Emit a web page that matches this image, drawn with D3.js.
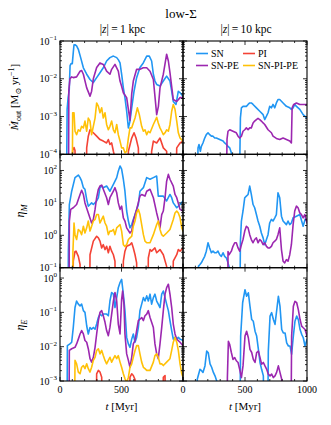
<!DOCTYPE html>
<html><head><meta charset="utf-8">
<script src="https://cdn.jsdelivr.net/npm/d3@7"></script>
<style>
body{margin:0;background:#fff}
text{font-family:"Liberation Serif","DejaVu Serif",serif;fill:#000}
</style>
</head><body><svg id="c" width="331" height="425"></svg>
<script>
// ---- data: each entry is [t (Myr), log10(value)] ----
// values far below an axis (−6) mean the curve drops out of the plotted range
// Mdot_out at |z| = 1 kpc
const sn_mdot_1 = [[50,-6],[58,-2.8],[66,-2.5],[75,-2.3],[82,-1.65],[90,-1.6],[100,-1.6],[108,-1.3],[114,-1.1],[122,-1.1],[135,-1.13],[149,-1.22],[168,-1.44],[190,-1.71],[217,-1.88],[244,-2.02],[271,-2.1],[298,-1.97],[325,-1.84],[352,-1.71],[379,-1.53],[406,-1.44],[434,-1.4],[461,-1.44],[475,-1.5],[488,-1.58],[501,-1.88],[515,-2.24],[528,-2.5],[542,-2.86],[556,-3.3],[569,-3.12],[583,-2.77],[602,-2.33],[623,-1.97],[650,-1.7],[677,-1.58],[705,-1.4],[726,-1.4],[745,-1.53],[759,-1.88],[772,-2.06],[786,-2.15],[813,-2.19],[840,-2.06],[867,-1.93],[894,-2.06],[908,-2.33],[921,-2.6],[943,-2.68],[962,-2.33],[976,-2.37],[1000,-2.46]];
const pi_mdot_1 = [[95,-6],[103,-3.9],[114,-3.82],[122,-3.9],[130,-6],[210,-6],[217,-3.83],[230,-3.52],[244,-3.35],[257,-3.39],[271,-3.43],[298,-3.52],[325,-3.61],[352,-3.65],[379,-3.7],[393,-3.61],[406,-3.74],[420,-3.7],[434,-3.92],[447,-4.1],[460,-6],[550,-6],[556,-3.92],[583,-3.57],[602,-3.43],[618,-3.57],[637,-3.83],[650,-6],[735,-6],[745,-3.92],[759,-3.65],[786,-3.7],[813,-3.57],[840,-3.83],[867,-3.92],[880,-6],[935,-6],[949,-3.83],[976,-3.7],[1000,-3.65]];
const snpe_mdot_1 = [[68,-6],[72,-2.3],[81,-2.0],[95,-1.95],[108,-1.97],[135,-1.95],[163,-1.8],[176,-1.78],[190,-1.88],[217,-2.24],[244,-2.46],[257,-2.33],[271,-2.0],[298,-1.7],[325,-1.58],[352,-1.62],[379,-1.8],[406,-1.88],[420,-1.75],[447,-1.62],[474,-1.8],[488,-2.06],[501,-2.2],[515,-2.37],[542,-2.5],[569,-3.1],[583,-2.4],[596,-2.06],[623,-1.75],[650,-1.75],[677,-1.71],[705,-1.71],[732,-1.8],[759,-2.02],[786,-2.95],[800,-2.73],[813,-2.24],[840,-1.88],[867,-1.35],[881,-1.53],[894,-1.84],[921,-2.55],[949,-2.6],[976,-2.5],[1000,-2.5]];
const snpipe_mdot_1 = [[98,-6],[103,-2.9],[114,-2.9],[122,-3.39],[135,-3.48],[149,-3.35],[163,-3.39],[176,-3.26],[190,-3.3],[203,-3.12],[217,-3.39],[230,-3.04],[244,-3.12],[257,-3.48],[271,-3.26],[285,-3.04],[298,-2.64],[312,-2.73],[325,-2.9],[339,-2.77],[352,-3.04],[366,-2.9],[379,-3.21],[393,-3.35],[406,-3.26],[420,-3.12],[434,-3.35],[447,-3.43],[461,-3.21],[474,-3.48],[488,-3.65],[501,-3.83],[515,-3.83],[528,-3.96],[542,-3.92],[556,-3.57],[569,-3.3],[583,-3.3],[596,-3.17],[610,-3.04],[629,-2.77],[645,-2.95],[664,-3.26],[678,-3.39],[691,-3.35],[705,-3.48],[718,-3.39],[732,-3.43],[759,-3.21],[786,-3.02],[799,-3.17],[813,-3.3],[827,-3.39],[840,-3.48],[854,-3.43],[867,-3.35],[881,-3.39],[894,-3.21],[908,-2.86],[921,-2.68],[935,-2.81],[949,-3.12],[962,-3.43],[976,-3.57],[1000,-3.65]];
// Mdot_out at |z| = 10 kpc
const sn_mdot_10 = [[110,-6],[121,-3.83],[129,-3.74],[140,-3.92],[148,-3.79],[161,-3.7],[175,-3.57],[188,-3.48],[202,-3.43],[215,-3.48],[229,-3.52],[242,-3.52],[256,-3.57],[269,-3.57],[296,-3.61],[323,-3.65],[336,-3.7],[350,-3.74],[363,-3.79],[377,-3.83],[390,-3.96],[400,-6],[450,-6],[463,-3.04],[471,-2.77],[484,-2.73],[511,-2.73],[525,-2.68],[538,-2.64],[551,-2.64],[565,-2.68],[592,-2.77],[619,-2.86],[646,-2.95],[659,-3.08],[673,-2.99],[686,-2.9],[699,-2.73],[713,-2.77],[726,-2.68],[740,-2.77],[753,-2.64],[766,-2.55],[780,-2.55],[807,-2.64],[834,-2.73],[861,-2.77],[874,-2.81],[888,-2.77],[901,-2.68],[915,-2.73],[942,-2.81],[969,-2.95],[1000,-3.04]];
const pi_mdot_10 = [];
const snpe_mdot_10 = [[345,-6],[355,-3.6],[363,-3.39],[377,-3.35],[403,-3.39],[430,-3.43],[444,-3.52],[457,-3.57],[471,-3.52],[484,-3.39],[498,-3.35],[511,-3.3],[525,-3.35],[538,-3.3],[551,-3.3],[565,-3.17],[578,-3.12],[592,-3.08],[605,-3.05],[619,-3.08],[632,-3.12],[646,-3.17],[659,-3.21],[686,-3.35],[713,-3.43],[726,-3.52],[753,-3.58],[780,-3.61],[807,-3.57],[834,-3.61],[861,-3.65],[874,-3.7],[880,-2.77],[893,-2.68],[915,-2.64],[942,-2.68],[969,-2.68],[1000,-2.68]];
const snpipe_mdot_10 = [];
// eta_M at |z| = 1 kpc
const sn_etaM_1 = [[62,-6],[68,-0.5],[76,0.95],[95,1.36],[122,1.78],[149,1.86],[163,1.78],[176,1.67],[190,1.47],[203,1.42],[217,1.11],[230,0.9],[244,0.95],[257,1.0],[271,0.95],[298,1.06],[312,1.16],[325,1.47],[339,1.52],[352,1.47],[379,1.52],[406,1.36],[434,1.57],[461,1.78],[474,1.98],[488,2.14],[501,2.04],[515,1.73],[528,1.36],[542,0.75],[556,0.44],[569,0.23],[583,0.33],[596,0.49],[610,0.64],[637,0.95],[650,1.36],[678,1.47],[705,1.78],[732,1.73],[759,1.78],[786,1.83],[799,1.21],[813,1.21],[840,1.21],[867,1.06],[894,1.26],[908,1.16],[921,1.0],[949,0.85],[976,0.95],[1000,1.06]];
const pi_etaM_1 = [[100,-6],[108,-0.8],[122,-0.5],[130,-0.49],[149,-0.65],[163,-0.9],[170,-6],[236,-6],[244,-0.6],[271,-0.18],[298,-0.03],[312,-0.08],[325,-0.18],[339,-0.39],[352,-0.29],[366,-0.44],[379,-0.34],[393,-0.54],[406,-0.34],[420,-0.49],[434,-0.6],[447,-0.8],[461,-6],[505,-6],[515,-0.8],[528,-0.49],[542,-0.34],[569,-0.29],[583,-0.23],[596,-0.39],[610,-0.6],[623,-0.85],[635,-6],[710,-6],[718,-0.7],[732,-0.44],[745,-0.49],[772,-0.39],[786,-0.54],[813,-0.44],[840,-0.6],[867,-0.96],[880,-6],[910,-6],[921,-0.8],[949,-0.6],[962,-0.44],[976,-0.49],[1000,-0.39]];
const snpe_etaM_1 = [[70,-6],[76,0.44],[87,0.8],[108,0.85],[135,0.95],[163,1.26],[176,1.39],[190,1.26],[203,1.0],[230,0.69],[257,0.38],[271,0.49],[285,0.8],[298,1.16],[312,1.42],[325,1.52],[339,1.55],[352,1.42],[379,1.16],[393,0.95],[406,1.16],[434,1.36],[447,1.47],[461,1.31],[474,1.0],[488,0.8],[501,0.9],[515,0.54],[528,0.44],[542,0.23],[569,0.07],[583,0.13],[596,0.44],[623,0.8],[650,1.21],[664,1.26],[691,1.21],[705,1.36],[732,1.42],[759,1.16],[786,0.69],[799,0.49],[813,0.23],[827,0.64],[840,0.75],[854,1.16],[867,1.67],[881,1.88],[894,1.73],[921,1.52],[935,1.26],[949,1.16],[976,0.8],[1000,0.75]];
const snpipe_etaM_1 = [[100,-6],[105,-0.5],[114,0.38],[122,0.02],[135,-0.13],[149,0.18],[163,0.13],[176,0.02],[190,0.28],[203,0.07],[217,0.23],[230,0.44],[244,0.13],[257,0.28],[271,0.44],[285,0.49],[298,0.64],[312,0.64],[325,0.38],[339,0.49],[352,0.59],[366,0.38],[379,0.28],[393,0.02],[406,0.13],[420,0.13],[434,0.18],[447,0.02],[461,0.23],[474,0.28],[488,0.33],[501,0.13],[515,-0.29],[528,-0.34],[542,-0.29],[556,-0.13],[569,-0.08],[583,-0.03],[596,0.28],[610,0.44],[623,0.69],[637,0.8],[650,0.64],[664,0.33],[678,0.02],[691,-0.18],[705,-0.23],[732,-0.23],[759,0.02],[786,0.33],[799,0.44],[813,0.18],[827,0.02],[840,-0.03],[867,0.07],[894,0.18],[921,0.49],[935,0.69],[949,0.75],[962,0.69],[976,0.54],[990,0.23],[1000,0.13]];
// eta_M at |z| = 10 kpc
const sn_etaM_10 = [[115,-6],[125,-0.95],[135,-0.91],[148,-0.85],[161,-0.75],[175,-0.65],[188,-0.49],[202,-0.23],[215,-0.39],[229,-0.54],[242,-0.49],[256,-0.54],[269,-0.54],[282,-0.49],[296,-0.6],[309,-0.65],[323,-0.54],[336,-0.65],[350,-0.7],[363,-0.85],[377,-1.05],[385,-6],[452,-6],[463,-0.18],[471,0.44],[484,0.75],[498,1.16],[511,1.21],[525,1.26],[538,1.52],[551,1.26],[565,0.95],[578,0.85],[592,0.64],[605,0.44],[619,0.28],[632,0.07],[646,-0.08],[659,-0.29],[673,-0.13],[686,0.02],[699,0.38],[713,0.49],[726,0.44],[740,0.54],[753,0.64],[766,1.31],[780,1.16],[794,0.59],[807,0.44],[834,0.33],[847,0.44],[861,0.33],[874,0.38],[888,0.54],[915,0.59],[942,0.64],[969,0.28],[985,0.5],[1000,0.49]];
const pi_etaM_10 = [];
const snpe_etaM_10 = [[355,-6],[363,-0.5],[371,-0.6],[390,-0.49],[403,-0.34],[417,-0.23],[430,-0.23],[444,-0.39],[457,-0.49],[471,-0.29],[484,-0.13],[498,0.13],[511,0.28],[525,0.23],[538,0.02],[551,-0.13],[565,-0.23],[578,-0.13],[592,-0.08],[605,-0.23],[619,-0.13],[632,-0.18],[646,-0.29],[659,-0.23],[673,-0.34],[686,-0.39],[699,-0.39],[713,-0.34],[726,-0.23],[740,-0.18],[753,-0.13],[766,0.02],[780,0.23],[794,-0.44],[807,-0.8],[820,-0.85],[834,-0.75],[847,-0.8],[861,-0.6],[874,-0.29],[888,0.33],[901,0.75],[915,0.9],[928,0.85],[942,0.69],[955,0.64],[969,0.54],[982,0.64],[1000,0.38]];
const snpipe_etaM_10 = [];
// eta_E at |z| = 1 kpc
const sn_etaE_1 = [[55,-6],[60,-1.97],[81,-1.92],[95,-1.87],[108,-1.44],[122,-0.86],[135,-0.67],[149,-0.76],[163,-0.81],[176,-0.76],[190,-0.95],[203,-1.0],[217,-1.39],[230,-1.63],[244,-1.44],[257,-1.49],[271,-1.44],[285,-1.49],[298,-1.34],[312,-1.15],[325,-1.05],[339,-1.1],[352,-1.05],[379,-1.05],[393,-1.1],[406,-0.67],[420,-0.42],[434,-0.47],[447,-0.86],[461,-0.57],[474,-0.28],[488,-0.13],[501,-0.04],[515,-0.47],[528,-0.95],[542,-1.73],[556,-1.92],[569,-2.02],[583,-1.78],[596,-1.63],[610,-1.87],[623,-1.73],[637,-1.44],[650,-0.95],[664,-0.76],[678,-0.57],[691,-0.67],[705,-0.52],[718,-0.67],[732,-0.47],[745,-0.76],[759,-0.57],[772,-0.47],[786,-0.67],[799,-0.76],[813,-0.86],[827,-0.47],[840,-0.38],[854,-0.57],[867,-0.76],[881,-0.95],[894,-1.24],[908,-1.53],[921,-1.78],[935,-1.73],[949,-1.78],[962,-1.73],[976,-1.78],[1000,-1.82]];
const pi_etaE_1 = [[290,-6],[298,-2.79],[312,-2.69],[325,-2.74],[339,-2.89],[352,-6],[560,-6],[569,-2.89],[583,-2.79],[596,-2.84],[610,-2.96],[620,-6],[830,-6],[840,-2.89],[854,-2.84],[865,-6]];
const snpe_etaE_1 = [[70,-6],[76,-2.11],[95,-2.06],[122,-2.02],[135,-1.92],[149,-1.78],[163,-1.63],[176,-1.53],[190,-1.63],[203,-1.82],[217,-1.87],[230,-2.06],[244,-2.35],[257,-2.45],[271,-2.31],[285,-2.02],[298,-1.63],[312,-1.24],[325,-1.0],[339,-0.95],[352,-1.1],[366,-1.29],[379,-1.53],[393,-1.68],[406,-1.44],[420,-1.05],[434,-0.67],[447,-0.42],[461,-0.67],[474,-1.34],[488,-1.63],[501,-0.62],[509,-0.38],[520,-0.76],[528,-1.63],[542,-2.21],[556,-2.4],[569,-2.6],[583,-2.31],[596,-1.92],[610,-1.82],[623,-1.53],[637,-1.24],[650,-1.2],[664,-1.15],[678,-1.24],[691,-1.1],[705,-1.05],[718,-0.95],[732,-1.15],[745,-1.29],[759,-1.44],[772,-1.92],[786,-2.21],[799,-2.35],[813,-1.92],[827,-1.44],[840,-0.95],[854,-0.47],[867,-0.28],[881,-0.18],[894,-0.47],[908,-0.86],[921,-1.34],[935,-1.63],[949,-1.78],[976,-1.87],[1000,-1.97]];
const snpipe_etaE_1 = [[115,-6],[122,-2.4],[135,-2.5],[149,-2.74],[163,-2.79],[176,-2.6],[190,-2.55],[203,-2.64],[217,-2.5],[230,-2.64],[244,-2.74],[257,-2.6],[271,-2.4],[285,-2.31],[298,-2.11],[312,-2.06],[325,-2.21],[339,-2.11],[352,-2.26],[366,-2.4],[379,-2.5],[393,-2.4],[406,-2.31],[420,-2.45],[434,-2.35],[447,-2.26],[461,-2.35],[474,-2.26],[488,-2.45],[501,-2.6],[515,-2.79],[528,-2.93],[542,-3.05],[556,-2.89],[569,-2.6],[583,-2.5],[596,-2.31],[610,-2.11],[623,-1.97],[637,-1.97],[650,-2.21],[664,-2.45],[678,-2.6],[691,-2.64],[705,-2.69],[732,-2.69],[759,-2.45],[772,-2.26],[786,-2.21],[799,-2.31],[813,-2.5],[827,-2.5],[840,-2.55],[867,-2.45],[894,-2.35],[908,-2.11],[921,-1.87],[935,-1.73],[949,-1.87],[962,-2.11],[976,-2.5],[990,-2.79],[1000,-2.89]];
// eta_E at |z| = 10 kpc
const sn_etaE_10 = [[108,-6],[115,-2.95],[137,-2.66],[150,-2.7],[161,-2.75],[177,-2.56],[191,-2.13],[204,-2.18],[218,-2.5],[231,-2.6],[245,-2.75],[258,-2.85],[272,-3.0],[280,-6],[455,-6],[465,-1.69],[481,-0.72],[500,-0.34],[513,-0.53],[527,-0.43],[540,-0.82],[554,-1.21],[567,-1.26],[581,-1.55],[594,-1.69],[608,-2.08],[621,-2.46],[634,-2.66],[648,-2.85],[660,-6],[680,-6],[688,-2.13],[702,-1.11],[715,-1.01],[729,-1.21],[742,-1.35],[755,-0.96],[769,-0.53],[782,-0.82],[796,-1.5],[809,-1.6],[823,-1.6],[836,-1.89],[850,-1.98],[863,-1.98],[876,-2.22],[890,-1.69],[903,-1.26],[917,-1.11],[930,-1.21],[944,-1.5],[957,-1.64],[970,-1.74],[984,-1.98],[1000,-1.79]];
const pi_etaE_10 = [];
const snpe_etaE_10 = [[352,-6],[358,-2.9],[366,-1.84],[376,-1.93],[390,-2.17],[403,-2.37],[417,-2.32],[430,-2.41],[444,-2.46],[457,-2.66],[471,-2.9],[484,-2.56],[500,-1.69],[513,-1.55],[527,-1.74],[540,-2.08],[554,-2.17],[567,-2.37],[581,-2.46],[594,-2.17],[608,-2.13],[621,-2.32],[634,-2.51],[648,-2.46],[661,-2.56],[675,-2.66],[688,-2.8],[702,-2.85],[715,-2.8],[729,-2.9],[742,-2.85],[755,-2.75],[769,-2.56],[782,-2.75],[796,-2.95],[805,-6],[868,-6],[876,-1.69],[890,-0.82],[903,-0.68],[917,-0.72],[930,-0.92],[944,-1.21],[957,-1.4],[970,-1.45],[984,-1.5],[1000,-1.69]];
const snpipe_etaE_10 = [];

const seriesNames = ["SN", "PI", "SN-PE", "SN-PI-PE"];
const colors = ["#2196F3", "#F44336", "#9C27B0", "#FFC107"];
const columnTitles = ["1 kpc", "10 kpc"];
const xTickValues = [[0, 500], [0, 500, 1000]];
const yExponents = [[-4, -3, -2, -1], [-1, 0, 1, 2], [-3, -2, -1, 0]];
const yDomains = [[1e-4, 1e-1], [1e-1, 316], [1e-3, 2]];

const grid = [
  [[sn_mdot_1, pi_mdot_1, snpe_mdot_1, snpipe_mdot_1], [sn_mdot_10, pi_mdot_10, snpe_mdot_10, snpipe_mdot_10]],
  [[sn_etaM_1, pi_etaM_1, snpe_etaM_1, snpipe_etaM_1], [sn_etaM_10, pi_etaM_10, snpe_etaM_10, snpipe_etaM_10]],
  [[sn_etaE_1, pi_etaE_1, snpe_etaE_1, snpipe_etaE_1], [sn_etaE_10, pi_etaE_10, snpe_etaE_10, snpipe_etaE_10]]
];

// ---- layout ----
const svg = d3.select("#c");
const colX = [[60, 183], [183, 307]];
const rowY = [[41, 154.3], [154.3, 267.7], [267.7, 381]];
const FONT = 10;

svg.append("text").attr("x", 181).attr("y", 18).attr("text-anchor", "middle")
  .attr("font-size", 13).text("low-Σ");

columnTitles.forEach((ct, c) => {
  const cx = (colX[c][0] + colX[c][1]) / 2 + 1;
  const t = svg.append("text").attr("x", cx).attr("y", 33).attr("text-anchor", "middle").attr("font-size", 11.5);
  t.append("tspan").text("|");
  t.append("tspan").attr("font-style", "italic").text("z");
  t.append("tspan").text("|\u2009=\u2009" + ct);
});

grid.forEach((rowData, r) => {
  rowData.forEach((panel, c) => {
    const [x0, x1] = colX[c], [y0, y1] = rowY[r];
    const x = d3.scaleLinear().domain([0, 1000]).range([x0, x1]);
    const y = d3.scaleLog().domain(yDomains[r]).range([y1, y0]);
    const id = `clip${r}${c}`;
    svg.append("clipPath").attr("id", id).append("rect")
      .attr("x", x0).attr("y", y0).attr("width", x1 - x0).attr("height", y1 - y0);
    const g = svg.append("g").attr("clip-path", `url(#${id})`);
    const line = d3.line().x(d => x(d[0])).y(d => y(Math.pow(10, d[1])));
    panel.forEach((data, i) => {
      if (!data.length) return;
      g.append("path").datum(data).attr("d", line).attr("fill", "none")
        .attr("stroke", colors[i]).attr("stroke-width", 1.6)
        .attr("stroke-linejoin", "round").attr("stroke-linecap", "round");
    });
    // ticks
    const tk = svg.append("g").attr("stroke", "#000").attr("stroke-width", 0.8);
    const [lo, hi] = yDomains[r];
    for (let e = Math.floor(Math.log10(lo)); e <= Math.ceil(Math.log10(hi)); e++) {
      for (let k = 1; k <= 9; k++) {
        const v = k * Math.pow(10, e);
        if (v < lo * 0.999 || v > hi * 1.001) continue;
        const L = k === 1 ? 4 : 2;
        const yy = y(v);
        tk.append("line").attr("x1", x0).attr("x2", x0 + L).attr("y1", yy).attr("y2", yy);
        tk.append("line").attr("x1", x1).attr("x2", x1 - L).attr("y1", yy).attr("y2", yy);
      }
    }
    for (let t = 0; t <= 1000; t += 100) {
      const L = t % 500 === 0 ? 4 : 2;
      const xx = x(t);
      tk.append("line").attr("x1", xx).attr("x2", xx).attr("y1", y1).attr("y2", y1 - L);
      tk.append("line").attr("x1", xx).attr("x2", xx).attr("y1", y0).attr("y2", y0 + L);
    }
    svg.append("rect").attr("x", x0).attr("y", y0).attr("width", x1 - x0).attr("height", y1 - y0)
      .attr("fill", "none").attr("stroke", "#000").attr("stroke-width", 1.1);
    // y tick labels (left column)
    if (c === 0) {
      yExponents[r].forEach(e => {
        const t = svg.append("text").attr("x", 57).attr("y", y(Math.pow(10, e)) + 3.5)
          .attr("text-anchor", "end").attr("font-size", FONT);
        t.append("tspan").text("10");
        t.append("tspan").attr("font-size", 7).attr("dy", -4.5).text(e < 0 ? "−" + (-e) : String(e));
      });
    }
    // x tick labels (bottom row)
    if (r === 2) {
      xTickValues[c].forEach(v => {
        svg.append("text").attr("x", x(v)).attr("y", y1 + 12).attr("text-anchor", "middle")
          .attr("font-size", FONT).text(v);
      });
      const xl = svg.append("text").attr("x", (x0 + x1) / 2).attr("y", 410)
        .attr("text-anchor", "middle").attr("font-size", 11);
      xl.append("tspan").attr("font-style", "italic").text("t");
      xl.append("tspan").text(" [Myr]");
    }
  });
});

// y axis labels
const yl0 = svg.append("text").attr("transform", "translate(18,97) rotate(-90)")
  .attr("text-anchor", "middle").attr("font-size", 11);
yl0.append("tspan").attr("font-style", "italic").text("Ṁ");
yl0.append("tspan").attr("font-size", 8).attr("dy", 2.5).text("out");
yl0.append("tspan").attr("dy", -2.5).text(" [M");
yl0.append("tspan").attr("font-size", 8).attr("dy", 2.5).text("⊙");
yl0.append("tspan").attr("dy", -2.5).text(" yr");
yl0.append("tspan").attr("font-size", 8).attr("dy", -4.5).text("−1");
yl0.append("tspan").attr("dy", 4.5).text("]");

[["M", 211], ["E", 325]].forEach(([sub, cy]) => {
  const t = svg.append("text").attr("transform", `translate(24,${cy}) rotate(-90)`)
    .attr("text-anchor", "middle").attr("font-size", 12);
  t.append("tspan").attr("font-style", "italic").text("η");
  t.append("tspan").attr("font-style", "italic").attr("font-size", 8.5).attr("dy", 2.5).text(sub);
});

// legend in top-right panel
const legendPos = [[196, 53.5], [243, 53.5], [196, 65.5], [243, 65.5]];
seriesNames.forEach((name, i) => {
  const [lx, ly] = legendPos[i];
  svg.append("line").attr("x1", lx).attr("x2", lx + 12).attr("y1", ly).attr("y2", ly)
    .attr("stroke", colors[i]).attr("stroke-width", 1.6);
  svg.append("text").attr("x", lx + 15).attr("y", ly + 3.2).attr("font-size", 10).text(name);
});
</script>
</body></html>
